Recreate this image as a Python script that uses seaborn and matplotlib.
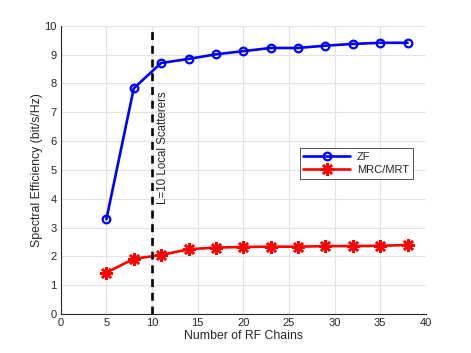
import matplotlib
matplotlib.use("Agg")
import matplotlib.pyplot as plt
import seaborn as sns
import pandas as pd

rf_chains = [5, 8, 11, 14, 17, 20, 23, 26, 29, 32, 35, 38]
zf = [3.29, 7.83, 8.71, 8.85, 9.01, 9.12, 9.23, 9.23, 9.31, 9.37, 9.41, 9.41]
mrc = [1.44, 1.92, 2.05, 2.25, 2.31, 2.33, 2.34, 2.34, 2.36, 2.36, 2.37, 2.40]
x_ticks = [0, 5, 10, 15, 20, 25, 30, 35, 40]
y_ticks = list(range(0, 11))
scatter_L = 10

sns.set_style("white")
plt.rcParams['font.family'] = ['Liberation Sans', 'DejaVu Sans']

fig = plt.figure(figsize=(4.71, 3.53), dpi=100)
ax = fig.add_axes([0.129, 0.11, 0.775, 0.817])

df_zf = pd.DataFrame({"x": rf_chains, "y": zf})
df_mrc = pd.DataFrame({"x": rf_chains, "y": mrc})

sns.lineplot(data=df_zf, x="x", y="y", ax=ax, color="#0000ff", lw=1.9,
             marker="o", markersize=5.5, markerfacecolor="none",
             markeredgecolor="#0000ff", markeredgewidth=1.6, label="ZF")
sns.lineplot(data=df_mrc, x="x", y="y", ax=ax, color="#ff0000", lw=1.9,
             marker=(8, 2, 0), markersize=9, markeredgecolor="#ff0000",
             markeredgewidth=1.8, label="MRC/MRT")

ax.plot([scatter_L, scatter_L], [0, 10], color="black", lw=1.9,
        linestyle=(0, (3.0, 2.2)), zorder=3)
ax.text(11.25, 3.82, "L=10 Local Scatterers", rotation=90, ha="center",
        va="bottom", fontsize=8.3, color="#262626")

ax.set_xlim(0, 40)
ax.set_ylim(0, 10)
ax.set_xticks(x_ticks)
ax.set_yticks(y_ticks)
ax.grid(True, color="#e3e3e3", lw=0.8)
ax.set_axisbelow(True)
for s in ["top", "right"]:
    ax.spines[s].set_visible(False)
for s in ["left", "bottom"]:
    ax.spines[s].set_color("#262626")
    ax.spines[s].set_linewidth(0.8)
ax.tick_params(direction="in", length=3.5, width=0.7, colors="#262626",
               labelsize=8, pad=3)
ax.set_xlabel("Number of RF Chains", fontsize=8.8, color="#262626", labelpad=1)
ax.set_ylabel("Spectral Efficiency (bit/s/Hz)", fontsize=8.8, color="#262626",
              labelpad=1)

leg = ax.legend(loc="upper right", bbox_to_anchor=(0.964, 0.576),
                borderaxespad=0, fontsize=8, handlelength=4.2,
                frameon=True, fancybox=False, edgecolor="#262626",
                borderpad=0.35, labelspacing=0.25, handletextpad=0.6)
leg.get_frame().set_linewidth(0.7)

fig.savefig("out.png", dpi=100)
